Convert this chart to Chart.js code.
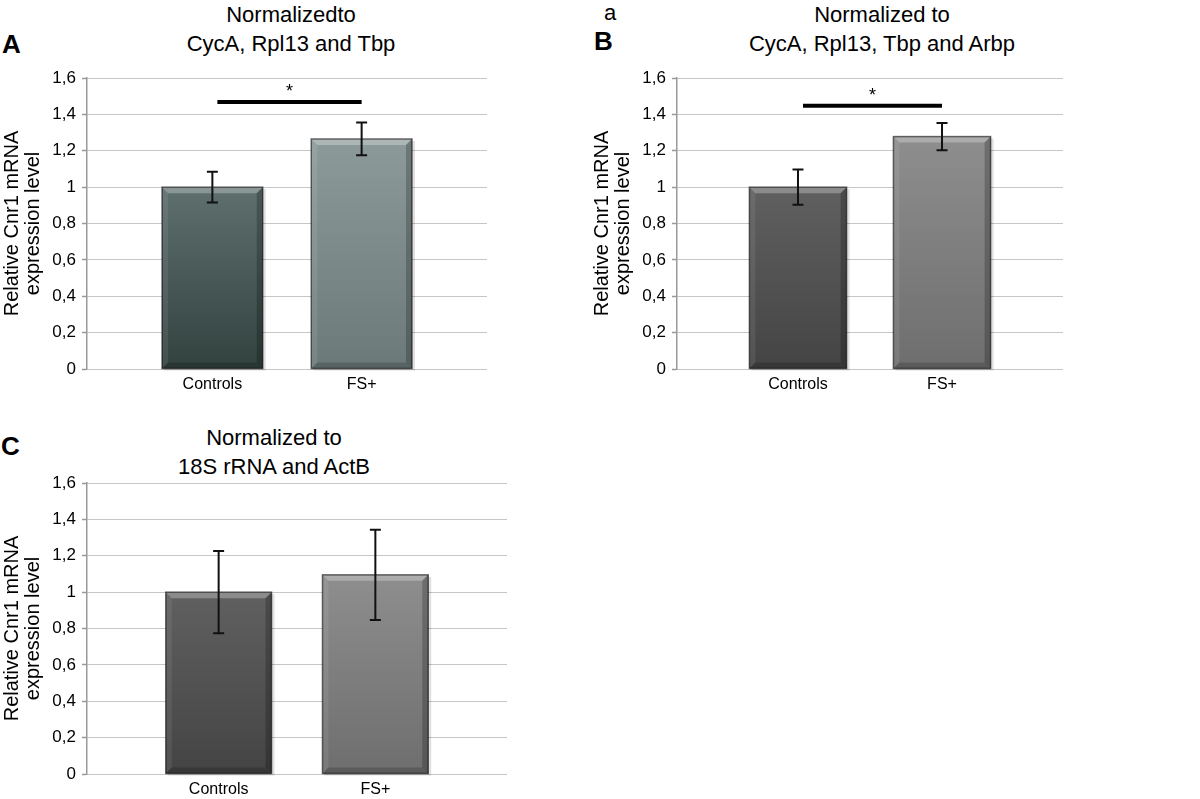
<!doctype html>
<html lang="en">
<head>
  <meta charset="utf-8" />
  <title>Relative Cnr1 mRNA expression</title>
  <script src="https://cdn.jsdelivr.net/npm/chart.js"></script>
  <style>
    html, body { margin: 0; padding: 0; background: #fff; width: 1200px; height: 799px; overflow: hidden; }
    body { position: relative; font-family: "Liberation Sans", Arial, sans-serif; color: #000; }
    .box { position: absolute; }
    .letter { position: absolute; font-weight: bold; font-size: 26px; line-height: 26px; }
    .title { position: absolute; width: 320px; font-size: 22px; line-height: 29px; text-align: center; white-space: nowrap; }
  </style>
</head>
<body>
  <div class="letter" style="left:2px; top:31px;">A</div>
  <div class="letter" style="left:594px; top:28px;">B</div>
  <div class="letter" style="left:1px; top:433px;">C</div>
  <div class="title" style="left:595px; top:2px; width:30px; line-height:22px;">a</div>

  <div class="title" style="left:131px; top:0px;">Normalizedto<br>CycA, Rpl13 and Tbp</div>
  <div class="title" style="left:722px; top:0px;">Normalized to<br>CycA, Rpl13, Tbp and Arbp</div>
  <div class="title" style="left:114px; top:423px;">Normalized to<br>18S rRNA and ActB</div>

  <div class="box" style="left:0px; top:60px; width:500px; height:340px;"><canvas id="chartA"></canvas></div>
  <div class="box" style="left:590px; top:60px; width:500px; height:340px;"><canvas id="chartB"></canvas></div>
  <div class="box" style="left:0px; top:465px; width:520px; height:340px;"><canvas id="chartC"></canvas></div>

<script>
  // categories and y tick labels (comma decimals as in the original)
  const categories = ['Controls', 'FS+'];
  const yTickLabels = ['0', '0,2', '0,4', '0,6', '0,8', '1', '1,2', '1,4', '1,6'];

  // A: normalized to CycA, Rpl13 and Tbp
  const valuesA = [1.00, 1.265];
  const errorsA = [0.085, 0.09];
  const sigA = 1.468;

  // B: normalized to CycA, Rpl13, Tbp and Arbp
  const valuesB = [1.00, 1.278];
  const errorsB = [0.097, 0.075];
  const sigB = 1.447;

  // C: normalized to 18S rRNA and ActB (no significance bar)
  const valuesC = [1.00, 1.095];
  const errorsC = [0.226, 0.248];
  const sigC = null;

  // bar colours: [top, bottom] of the gradient
  const coloursA = [['#5e6f6e', '#32423f'], ['#8c9b9a', '#6b7a79']];
  const coloursGrey = [['#606060', '#444444'], ['#8e8e8e', '#6e6e6e']];

  const decor = {
    id: 'decor',
    beforeDatasetsDraw(chart) {
      // soft drop shadow behind the bars
      const ctx = chart.ctx;
      const meta = chart.getDatasetMeta(0);
      ctx.save();
      ctx.fillStyle = 'rgba(0,0,0,0.12)';
      meta.data.forEach(el => {
        const p = el.getProps(['x', 'y', 'base', 'width'], true);
        ctx.fillRect(p.x - p.width / 2 + 2, p.y + 2, p.width + 1, p.base - p.y);
      });
      ctx.restore();
    },
    afterDatasetsDraw(chart, args, opts) {
      const ctx = chart.ctx;
      const xs = chart.scales.x, ys = chart.scales.y;
      const meta = chart.getDatasetMeta(0);
      const vals = chart.data.datasets[0].data;

      // bevel on each bar
      meta.data.forEach(el => {
        const p = el.getProps(['x', 'y', 'base', 'width'], true);
        const l = p.x - p.width / 2, r = p.x + p.width / 2, t = p.y, b = p.base;
        const bv = 6;
        ctx.save();
        ctx.fillStyle = 'rgba(255,255,255,0.28)';
        ctx.beginPath();
        ctx.moveTo(l, t); ctx.lineTo(r, t); ctx.lineTo(r - bv, t + bv); ctx.lineTo(l + bv, t + bv);
        ctx.closePath(); ctx.fill();
        ctx.fillStyle = 'rgba(255,255,255,0.08)';
        ctx.beginPath();
        ctx.moveTo(l, t); ctx.lineTo(l + bv, t + bv); ctx.lineTo(l + bv, b - bv); ctx.lineTo(l, b);
        ctx.closePath(); ctx.fill();
        ctx.fillStyle = 'rgba(0,0,0,0.22)';
        ctx.beginPath();
        ctx.moveTo(r, t); ctx.lineTo(r - bv, t + bv); ctx.lineTo(r - bv, b - bv); ctx.lineTo(r, b);
        ctx.closePath(); ctx.fill();
        ctx.fillStyle = 'rgba(0,0,0,0.18)';
        ctx.beginPath();
        ctx.moveTo(l, b); ctx.lineTo(r, b); ctx.lineTo(r - bv, b - bv); ctx.lineTo(l + bv, b - bv);
        ctx.closePath(); ctx.fill();
        ctx.strokeStyle = 'rgba(0,0,0,0.55)';
        ctx.lineWidth = 1.5;
        ctx.strokeRect(l, t, r - l, b - t);
        ctx.restore();
      });

      // error bars
      ctx.save();
      ctx.strokeStyle = '#111';
      ctx.lineWidth = 2;
      vals.forEach((d, i) => {
        const x = xs.getPixelForValue(d.x);
        const yTop = ys.getPixelForValue(d.y + opts.errors[i]);
        const yBot = ys.getPixelForValue(d.y - opts.errors[i]);
        ctx.beginPath();
        ctx.moveTo(x, yTop); ctx.lineTo(x, yBot);
        ctx.moveTo(x - 5.5, yTop); ctx.lineTo(x + 5.5, yTop);
        ctx.moveTo(x - 5.5, yBot); ctx.lineTo(x + 5.5, yBot);
        ctx.stroke();
      });
      ctx.restore();

      // significance bar with asterisk
      if (opts.sig != null) {
        const x1 = xs.getPixelForValue(0) + 5;
        const x2 = xs.getPixelForValue(1);
        const y = ys.getPixelForValue(opts.sig);
        ctx.save();
        ctx.strokeStyle = '#000';
        ctx.lineWidth = 4;
        ctx.beginPath();
        ctx.moveTo(x1, y); ctx.lineTo(x2, y);
        ctx.stroke();
        ctx.fillStyle = '#000';
        ctx.font = '18px "Liberation Sans", Arial, sans-serif';
        ctx.textAlign = 'center';
        ctx.textBaseline = 'alphabetic';
        ctx.fillText('*', (x1 + x2) / 2, y - 5);
        ctx.restore();
      }
    }
  };

  function makeChart(id, values, errors, sig, colours, padRight) {
    const data = categories.map((c, i) => ({ x: i, y: values[i] }));
    return new Chart(document.getElementById(id), {
      type: 'bar',
      data: {
        datasets: [{
          data: data,
          backgroundColor: (ctx) => {
            const chart = ctx.chart;
            const ys = chart.scales.y;
            const c = colours[ctx.dataIndex] || colours[0];
            if (!chart.chartArea || ctx.type !== 'data') return c[0];
            const top = ys.getPixelForValue(values[ctx.dataIndex]);
            const bot = ys.getPixelForValue(0);
            const g = chart.ctx.createLinearGradient(0, top, 0, bot);
            g.addColorStop(0, c[0]);
            g.addColorStop(1, c[1]);
            return g;
          },
          borderWidth: 0,
          barPercentage: 0.675,
          categoryPercentage: 1
        }]
      },
      options: {
        responsive: true,
        maintainAspectRatio: false,
        animation: false,
        layout: { padding: { left: 0, right: padRight, top: 18, bottom: 0 } },
        plugins: {
          legend: { display: false },
          tooltip: { enabled: false },
          decor: { errors: errors, sig: sig }
        },
        scales: {
          x: {
            type: 'linear',
            min: -0.84,
            max: 1.84,
            offset: false,
            afterBuildTicks: s => { s.ticks = categories.map((c, i) => ({ value: i })); },
            afterFit: s => { s.height = 31; },
            grid: { display: false, drawTicks: false },
            border: { display: false },
            ticks: {
              padding: 6,
              color: '#000',
              autoSkip: false,
              maxRotation: 0,
              font: { family: '"Liberation Sans", Arial, sans-serif', size: 16 },
              callback: v => categories[v]
            }
          },
          y: {
            min: 0,
            max: 1.6,
            afterFit: s => { s.width = 87; },
            ticks: {
              stepSize: 0.2,
              padding: 6,
              color: '#000',
              font: { family: '"Liberation Sans", Arial, sans-serif', size: 17 },
              callback: (v, i) => yTickLabels[i]
            },
            grid: { color: '#8c8c8c', lineWidth: 1, drawTicks: true, tickLength: 5, tickColor: '#999', tickWidth: 1.5 },
            border: { display: true, color: '#999', width: 1.5, dash: [1, 1] },
            title: {
              display: true,
              text: ['Relative Cnr1 mRNA', 'expression level'],
              color: '#000',
              font: { family: '"Liberation Sans", Arial, sans-serif', size: 20, lineHeight: 1.05 },
              padding: { top: 2, bottom: 0 }
            }
          }
        }
      },
      plugins: [decor]
    });
  }

  makeChart('chartA', valuesA, errorsA, sigA, coloursA, 13);
  makeChart('chartB', valuesB, errorsB, sigB, coloursGrey, 27);
  makeChart('chartC', valuesC, errorsC, sigC, coloursGrey, 13);
</script>
</body>
</html>
